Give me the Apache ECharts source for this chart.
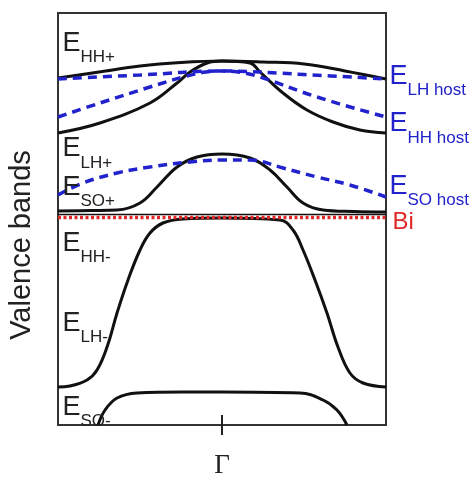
<!DOCTYPE html>
<html><head><meta charset="utf-8">
<script src="https://cdn.jsdelivr.net/npm/echarts@6/dist/echarts.min.js"></script>
<style>html,body{margin:0;padding:0;background:#fff}#c{width:475px;height:477px}</style>
</head><body><div id="c"></div>
<script>
// wave vector k (Γ at 0) and energy (arbitrary units, bottom of frame = 0)
const bandHHplus = [[-1,347],[-0.75,353],[-0.5,359],[-0.25,362.5],[0,364],[0.25,363],[0.5,361],[0.75,354],[1,346]];
const bandLHplus = [[-1,292],[-0.744,302],[-0.439,322],[-0.274,342],[-0.195,353],[-0.091,362],[0,364],[0.171,362],[0.232,353],[0.372,332],[0.518,315],[0.677,303],[0.841,295],[1,292]];
const hostLH = [[-1,346],[-0.5,350],[0,354],[0.5,350.5],[1,346]];
const hostHH = [[-1,308],[-0.744,322],[-0.439,338],[-0.238,348],[-0.1,353],[0,354],[0.1,353],[0.232,348],[0.579,328],[1,308]];
const hostSO = [[-1,230],[-0.848,242],[-0.64,252],[-0.439,258],[-0.195,263],[0,265],[0.171,265],[0.372,257],[0.579,248],[0.78,240],[1,228]];
const bandSOplus = [[-1,214],[-0.8,214.5],[-0.64,215],[-0.5,222],[-0.396,238],[-0.274,258],[-0.152,268],[0,271],[0.171,267],[0.293,255],[0.396,238],[0.494,222],[0.616,215],[0.8,213.5],[1,213]];
const levelBiLine = [[-1,210.5],[1,210.5]];
const levelBi = [[-1,207.5],[1,207.5]];
const bandHHminus = [[-1,38],[-0.927,39],[-0.823,45],[-0.762,55],[-0.701,78],[-0.64,112],[-0.573,145],[-0.5,175],[-0.439,192],[-0.36,202],[-0.238,206],[0,207],[0.354,205],[0.433,195],[0.494,175],[0.567,145],[0.64,112],[0.707,78],[0.78,52],[0.86,42],[1,38]];
const bandSOminus = [[-0.756,0],[-0.713,15],[-0.64,27],[-0.518,32],[-0.238,33],[0,33],[0.476,32],[0.616,25],[0.701,15],[0.762,0]];
const bandLabels = [[-0.97,394.5,'HH+'],[-0.97,289,'LH+'],[-0.97,250.5,'SO+'],[-0.97,194.5,'HH-'],[-0.97,114.5,'LH-'],[-0.97,30.5,'SO-']];
const hostLabels = [[1.024,361.5,'LH host'],[1.024,314,'HH host'],[1.024,251.5,'SO host']];
const biLabels = [[1.043,217.5,'Bi']];
const gammaTicks = [0];
const gammaText = 'Γ';
const yTitle = 'Valence bands';

const chart = echarts.init(document.getElementById('c'));
function band(data, color, width, type, smooth, z) {
  return {type:'line', data, smooth, symbol:'none', silent:true, z,
    lineStyle:{color, width, type, cap:'butt'}};
}
function labels(data, color) {
  return {type:'scatter', data, symbolSize:1, itemStyle:{color:'rgba(0,0,0,0)', opacity:1}, clip:false, silent:true, z:10,
    label:{show:true, position:[0,0], color,
      formatter:p=>'{e|E}{s|'+p.value[2]+'}',
      rich:{e:{fontSize:27, lineHeight:30, verticalAlign:'top', fontFamily:'Liberation Sans', color},
            s:{fontSize:17, lineHeight:36, verticalAlign:'bottom', fontFamily:'Liberation Sans', color}}}};
}
const black = '#111', blue = '#2222cc', red = '#e02828';
chart.setOption({
  animation:false,
  grid:{left:58, right:89, top:13, bottom:52, show:true, borderColor:'#333', borderWidth:2,
    containLabel:false, outerBoundsMode:'none'},
  xAxis:{type:'value', min:-1, max:1, offset:-10, axisLine:{show:false}, splitLine:{show:false},
    axisTick:{show:true, customValues:gammaTicks, length:20, lineStyle:{color:'#222', width:2}},
    axisLabel:{show:true, customValues:gammaTicks, formatter:()=>gammaText, margin:37, fontSize:27,
      fontFamily:'Liberation Serif', color:'#222'}},
  yAxis:{type:'value', min:0, max:412, axisLine:{show:false}, axisTick:{show:false}, axisLabel:{show:false},
    splitLine:{show:false}, name:yTitle, nameLocation:'middle', nameRotate:90, nameGap:22,
    nameTextStyle:{fontSize:29, color:'#222', fontFamily:'Liberation Sans', padding:[0,52,0,0]}},
  series:[
    band(bandHHplus, black, 3, 'solid', 0.4, 3),
    band(bandLHplus, black, 3, 'solid', 0.4, 3),
    band(bandSOplus, black, 3, 'solid', 0.4, 3),
    band(bandHHminus, black, 3, 'solid', 0.4, 3),
    band(bandSOminus, black, 3, 'solid', 0.4, 3),
    band(levelBiLine, black, 1.5, 'solid', false, 3),
    band(levelBi, red, 3.5, [3,2.5], false, 4),
    band(hostLH, blue, 3.5, [9,6], 0.4, 5),
    band(hostHH, blue, 3.5, [9,6], 0.4, 5),
    band(hostSO, blue, 3.5, [9,6], 0.4, 5),
    labels(bandLabels, '#222'),
    labels(hostLabels, blue),
    {type:'scatter', data:biLabels, symbolSize:1, itemStyle:{color:'rgba(0,0,0,0)', opacity:1}, clip:false, silent:true, z:10,
      label:{show:true, position:[0,0], formatter:p=>p.value[2], fontSize:24, lineHeight:30,
        fontFamily:'Liberation Sans', color:red}}
  ]
});
</script></body></html>
